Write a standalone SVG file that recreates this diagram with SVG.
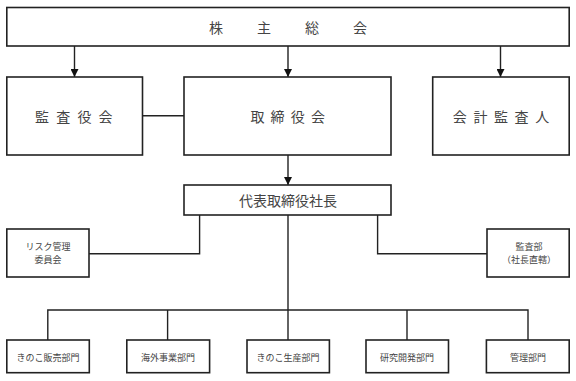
<svg xmlns="http://www.w3.org/2000/svg" width="576" height="381" viewBox="0 0 576 381">
<defs>
<marker id="arr" viewBox="0 0 10 10" refX="10" refY="5" markerWidth="8" markerHeight="8" markerUnits="userSpaceOnUse" orient="auto">
<path d="M0,0 L10,5 L0,10 Z" fill="#111"/>
</marker>
<style>
.box{fill:#fff;stroke:#222;stroke-width:1.6}
.ln{fill:none;stroke:#222;stroke-width:1.4}
text{font-family:"Noto Sans CJK JP","Liberation Serif",serif;fill:#444;text-anchor:middle;dominant-baseline:central}
.big{font-size:14px}
.sm{font-size:9px}
</style>
</defs>
<rect width="576" height="381" fill="#fff"/>
<g id="connectors">
<line class="ln" x1="74.5" y1="46" x2="74.5" y2="77" marker-end="url(#arr)"/>
<line class="ln" x1="288" y1="46" x2="288" y2="77" marker-end="url(#arr)"/>
<line class="ln" x1="500.5" y1="46" x2="500.5" y2="77" marker-end="url(#arr)"/>
<line class="ln" x1="142.5" y1="115.7" x2="184" y2="115.7"/>
<line class="ln" x1="288" y1="155" x2="288" y2="185" marker-end="url(#arr)"/>
<polyline class="ln" points="199.6,215 199.6,253.7 89,253.7"/>
<polyline class="ln" points="377.6,215 377.6,253.7 487,253.7"/>
<line class="ln" x1="288" y1="215" x2="288" y2="340"/>
<polyline class="ln" points="47.8,340 47.8,310 528,310 528,340"/>
<line class="ln" x1="167.6" y1="310" x2="167.6" y2="340"/>
<line class="ln" x1="407" y1="310" x2="407" y2="340"/>
</g>
<g id="shareholders">
<rect class="box" x="6.8" y="7.5" width="562.4" height="38.5"/>
<text class="big" x="216 264 312 360" y="27">株主総会</text>
</g>
<g id="audit-board">
<rect class="box" x="6.8" y="77" width="135.7" height="78"/>
<text class="big" x="42 63.2 84.4 105.6" y="116">監査役会</text>
</g>
<g id="board">
<rect class="box" x="184" y="77" width="207" height="78"/>
<text class="big" x="257.4 277.6 297.8 318" y="116">取締役会</text>
</g>
<g id="accounting-auditor">
<rect class="box" x="432.7" y="77" width="136.5" height="78"/>
<text class="big" x="459.8 480.4 501 521.6 542.2" y="116">会計監査人</text>
</g>
<g id="president">
<rect class="box" x="184" y="185" width="207" height="30"/>
<text class="big" x="288" y="200">代表取締役社長</text>
</g>
<g id="risk-committee">
<rect class="box" x="6.8" y="229" width="82.2" height="48"/>
<text class="sm" x="48" y="246">リスク管理</text>
<text class="sm" x="48" y="259">委員会</text>
</g>
<g id="audit-dept">
<rect class="box" x="487" y="229" width="82.2" height="48"/>
<text class="sm" x="529" y="246">監査部</text>
<text class="sm" x="529" y="259">（社長直轄）</text>
</g>
<g id="sales">
<rect class="box" x="6.8" y="340" width="82.5" height="32.7"/>
<text class="sm" x="48" y="357.5">きのこ販売部門</text>
</g>
<g id="overseas">
<rect class="box" x="126.8" y="340" width="82.8" height="32.7"/>
<text class="sm" x="168" y="357.5">海外事業部門</text>
</g>
<g id="production">
<rect class="box" x="247" y="340" width="82.4" height="32.7"/>
<text class="sm" x="288" y="357.5">きのこ生産部門</text>
</g>
<g id="rnd">
<rect class="box" x="366" y="340" width="82.5" height="32.7"/>
<text class="sm" x="407" y="357.5">研究開発部門</text>
</g>
<g id="admin">
<rect class="box" x="486.4" y="340" width="82.8" height="32.7"/>
<text class="sm" x="528" y="357.5">管理部門</text>
</g>
</svg>
